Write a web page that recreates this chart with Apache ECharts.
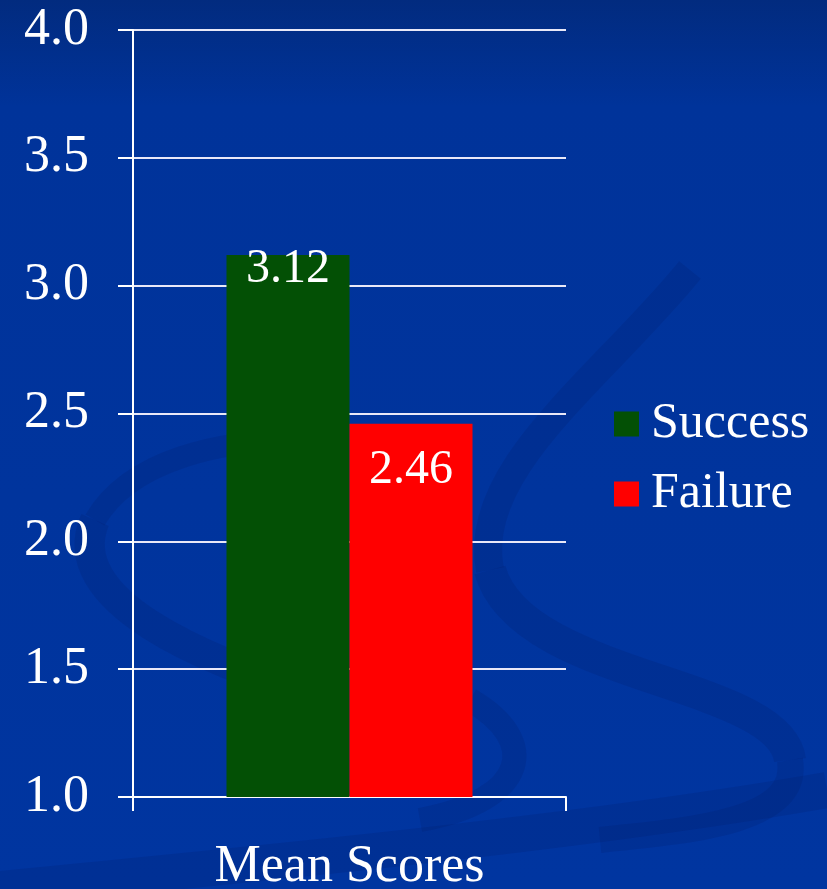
<!DOCTYPE html>
<html><head><meta charset="utf-8">
<script src="https://cdn.jsdelivr.net/npm/echarts@6/dist/echarts.min.js"></script>
<style>html,body{margin:0;padding:0;width:827px;height:889px;overflow:hidden;background:#0033a0;}#c{width:827px;height:889px;}</style>
</head><body><div id="c"></div>
<script>
const categories = ['Mean Scores'];
const seriesNames = ['Success', 'Failure'];
const successValues = [3.12];
const failureValues = [2.46];
const yTicks = ['1.0','1.5','2.0','2.5','3.0','3.5','4.0'];

const chart = echarts.init(document.getElementById('c'));
const font = '"Liberation Serif", "Times New Roman", serif';
const swirl = 'rgba(0,25,95,0.16)';
chart.setOption({
  backgroundColor: {
    type: 'linear', x: 0, y: 0, x2: 0, y2: 1,
    colorStops: [{offset: 0, color: '#022b7f'}, {offset: 0.12, color: '#00339a'}, {offset: 1, color: '#0035a0'}]
  },
  graphic: [
    {type: 'bezierCurve', silent: true, z: -10, shape: {x1: 95, y1: 520, cpx1: 60, cpy1: 600, cpx2: 200, cpy2: 660, x2: 330, y2: 700}, style: {stroke: swirl, lineWidth: 30, fill: null}},
    {type: 'bezierCurve', silent: true, z: -10, shape: {x1: 95, y1: 520, cpx1: 130, cpy1: 460, cpx2: 220, cpy2: 440, x2: 300, y2: 440}, style: {stroke: swirl, lineWidth: 22, fill: null}},
    {type: 'bezierCurve', silent: true, z: -10, shape: {x1: 690, y1: 270, cpx1: 600, cpy1: 380, cpx2: 470, cpy2: 470, x2: 490, y2: 570}, style: {stroke: swirl, lineWidth: 28, fill: null}},
    {type: 'bezierCurve', silent: true, z: -10, shape: {x1: 490, y1: 570, cpx1: 520, cpy1: 680, cpx2: 780, cpy2: 680, x2: 790, y2: 760}, style: {stroke: swirl, lineWidth: 32, fill: null}},
    {type: 'bezierCurve', silent: true, z: -10, shape: {x1: 790, y1: 760, cpx1: 800, cpy1: 820, cpx2: 700, cpy2: 830, x2: 600, y2: 840}, style: {stroke: swirl, lineWidth: 26, fill: null}},
    {type: 'bezierCurve', silent: true, z: -10, shape: {x1: 470, y1: 700, cpx1: 540, cpy1: 740, cpx2: 530, cpy2: 800, x2: 420, y2: 820}, style: {stroke: swirl, lineWidth: 24, fill: null}},
    {type: 'bezierCurve', silent: true, z: -10, shape: {x1: 0, y1: 889, cpx1: 300, cpy1: 860, cpx2: 600, cpy2: 830, x2: 827, y2: 790}, style: {stroke: swirl, lineWidth: 36, fill: null}}
  ],
  textStyle: {fontFamily: font},
  animation: false,
  grid: {left: 133, right: 261, top: 30, bottom: 92, containLabel: false, outerBoundsMode: 'none'},
  legend: {
    orient: 'vertical', left: 609, top: 394, itemWidth: 25, itemHeight: 25, itemGap: 20,
    icon: 'rect',
    textStyle: {color: '#ffffff', fontSize: 50, fontFamily: font, padding: [0, 0, 0, 7]},
    data: seriesNames
  },
  xAxis: {
    type: 'category', data: categories,
    axisLine: {lineStyle: {color: '#ffffff', width: 2}},
    axisTick: {show: true, length: 14, lineStyle: {color: '#ffffff', width: 2}},
    axisLabel: {color: '#ffffff', fontSize: 52, fontFamily: font, margin: 44}
  },
  yAxis: {
    type: 'value', min: 1, max: 4, interval: 0.5,
    axisLine: {show: true, lineStyle: {color: '#ffffff', width: 2}},
    axisTick: {show: true, length: 15, lineStyle: {color: '#ffffff', width: 2}},
    splitLine: {show: true, lineStyle: {color: '#e8e8f8', width: 2}},
    axisLabel: {color: '#ffffff', fontSize: 52, fontFamily: font, margin: 44, padding: [5, 0, 0, 0],
      formatter: function (v) { const i = Math.round((v - 1) / 0.5); return yTicks[i] !== undefined ? yTicks[i] : v.toFixed(1); }}
  },
  series: [
    {name: seriesNames[0], type: 'bar', data: successValues, barWidth: 123, barGap: '0%',
     itemStyle: {color: '#035005'},
     label: {show: true, position: 'insideTop', offset: [0, -15], color: '#ffffff', fontSize: 48, fontFamily: font,
       formatter: function (p) { return p.value.toFixed(2); }}},
    {name: seriesNames[1], type: 'bar', data: failureValues, barWidth: 123, barGap: '0%',
     itemStyle: {color: '#ff0000'},
     label: {show: true, position: 'insideTop', offset: [0, 18], color: '#ffffff', fontSize: 48, fontFamily: font,
       formatter: function (p) { return p.value.toFixed(2); }}}
  ]
});
</script></body></html>
